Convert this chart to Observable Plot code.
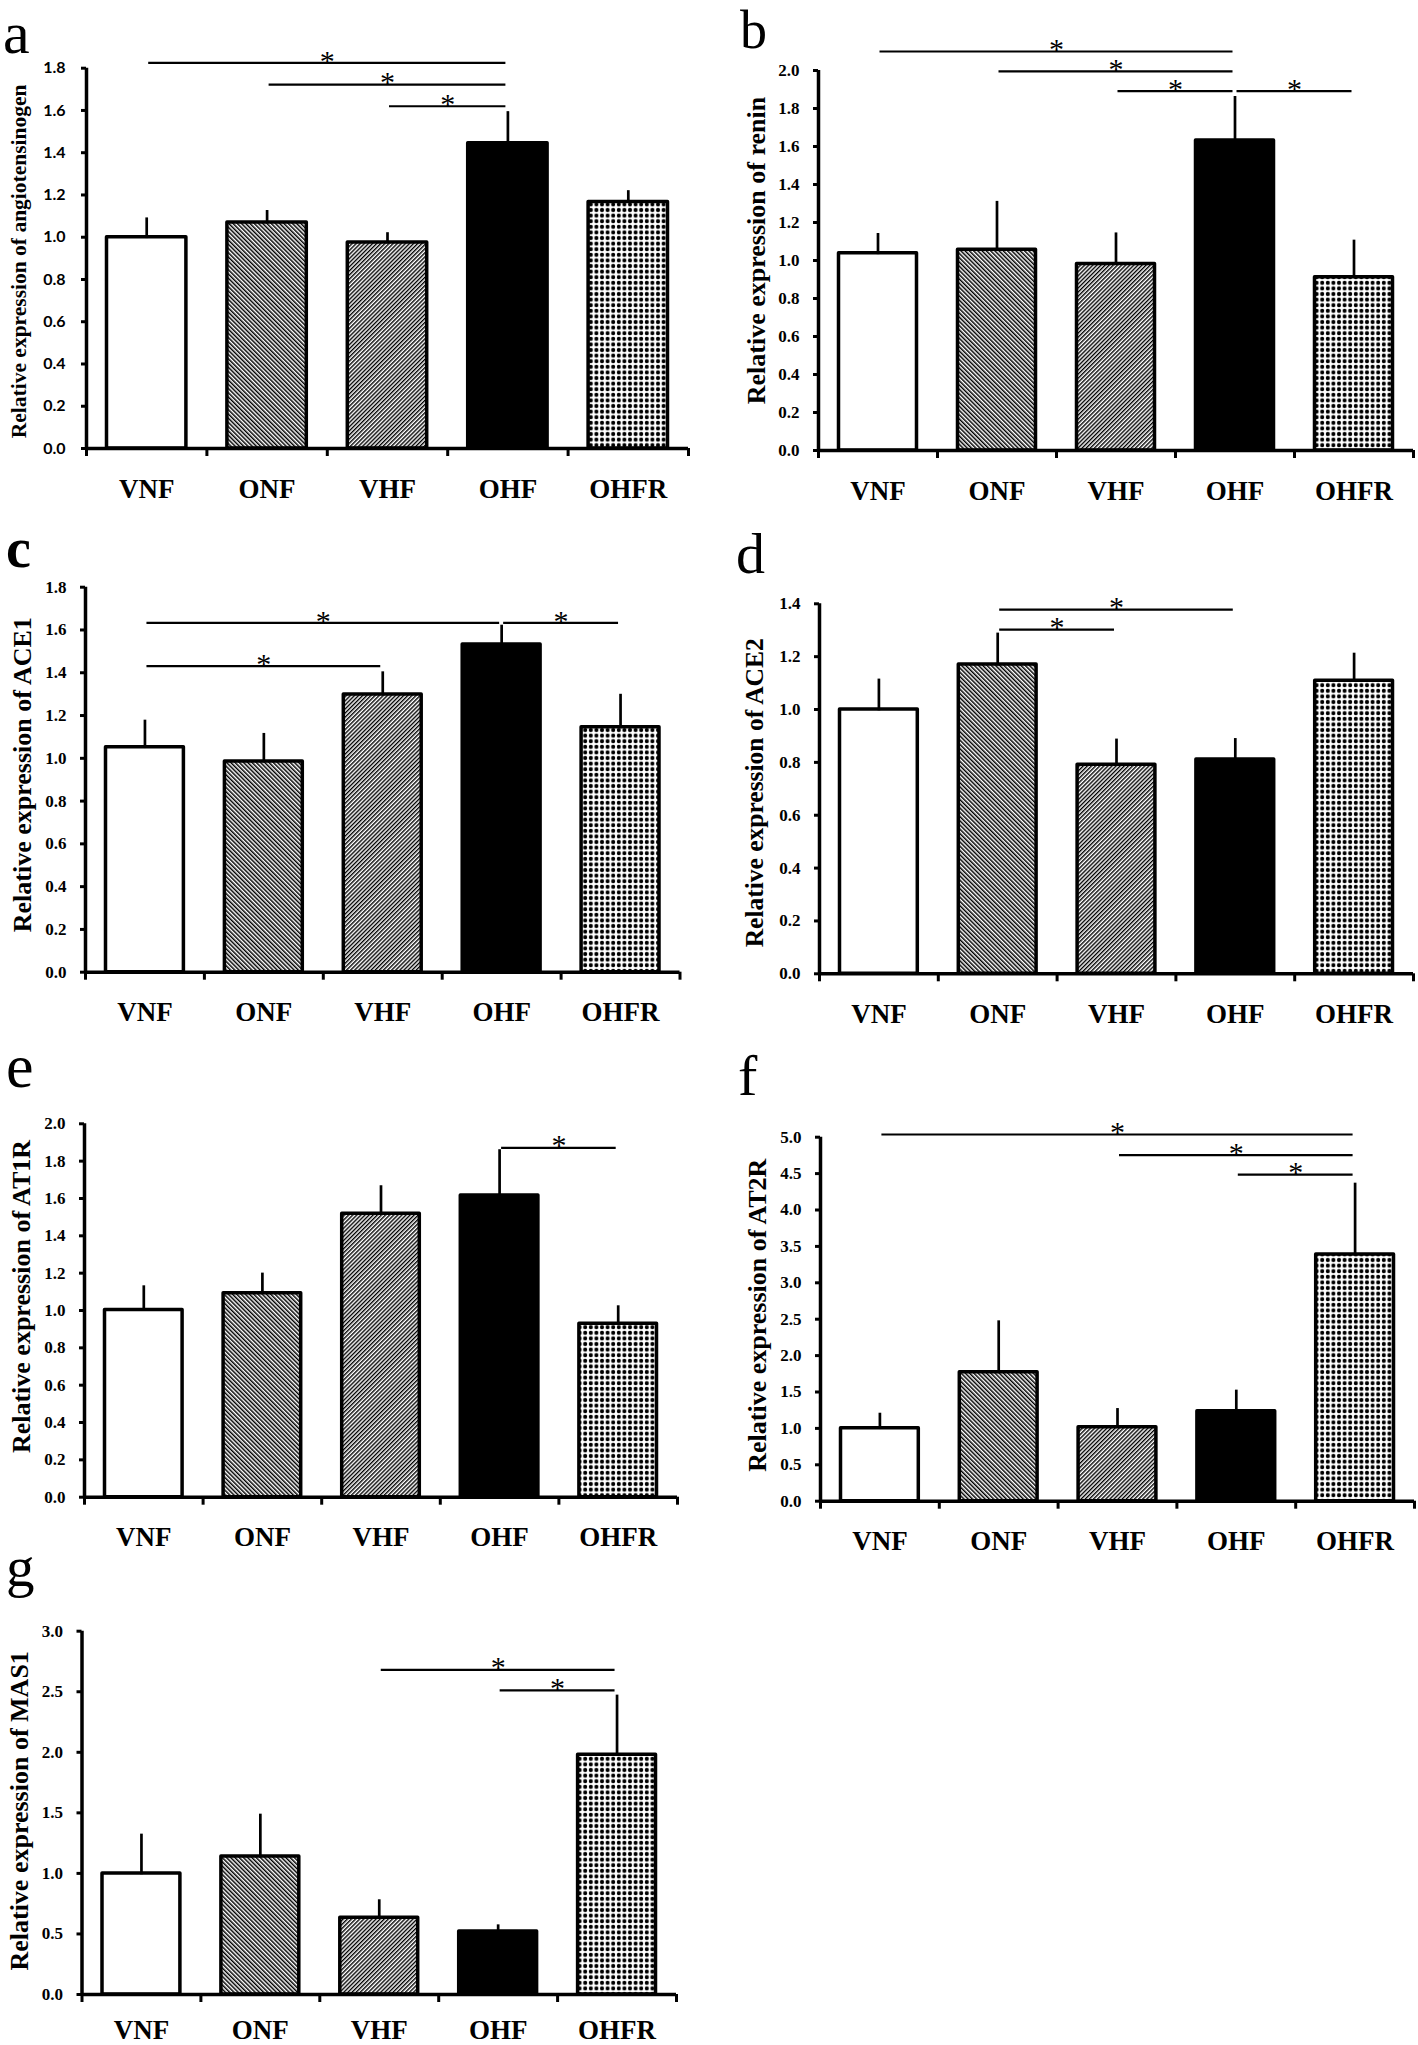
<!DOCTYPE html>
<html><head><meta charset="utf-8">
<script src="https://cdn.jsdelivr.net/npm/d3@7"></script>
<script src="https://cdn.jsdelivr.net/npm/@observablehq/plot@0.6"></script>
<style>
body{margin:0;background:#fff;}
#fig{position:relative;width:1418px;height:2045px;overflow:hidden;background:#fff;}
.panel{position:absolute;width:709px;}
#letters{position:absolute;left:0;top:0;z-index:5;pointer-events:none;}
</style></head><body>
<div id="fig">
<svg width="0" height="0" style="position:absolute">
<defs>
<pattern id="pONF" patternUnits="userSpaceOnUse" width="3.0" height="10" patternTransform="rotate(-45)">
<rect width="3.0" height="10" fill="#fff"/><rect width="1.5" height="10" fill="#000"/>
</pattern>
<pattern id="pVHF" patternUnits="userSpaceOnUse" width="2.9" height="10" patternTransform="rotate(45)">
<rect width="2.9" height="10" fill="#fff"/><rect width="1.4" height="10" fill="#000"/>
</pattern>
<pattern id="pOHFR" patternUnits="userSpaceOnUse" width="5.6" height="5.6">
<rect width="5.6" height="5.6" fill="#fff"/><circle cx="2.8" cy="2.8" r="2.05" fill="#000"/>
</pattern>
</defs>
</svg>
</div>
<script>
// ---------- data ----------
const categories = ["VNF", "ONF", "VHF", "OHF", "OHFR"];

const aMean = [1.00, 1.07, 0.975, 1.445, 1.167];
const aErr  = [0.085, 0.05, 0.04, 0.143, 0.047];
const aSig  = [[0, 3, 1.825], [1, 3, 1.722], [2, 3, 1.62]];

const bMean = [1.038, 1.056, 0.982, 1.632, 0.912];
const bErr  = [0.097, 0.248, 0.156, 0.224, 0.188];
const bSig  = [[0, 3, 2.1], [1, 3, 1.995], [2, 3, 1.891], [3, 4, 1.891]];

const cMean = [1.052, 0.985, 1.298, 1.532, 1.145];
const cErr  = [0.12, 0.125, 0.10, 0.084, 0.148];
const cSig  = [[0, 3, 1.633], [3, 4, 1.633], [0, 2, 1.431]];

const dMean = [1.00, 1.17, 0.791, 0.811, 1.109];
const dErr  = [0.11, 0.114, 0.092, 0.074, 0.099];
const dSig  = [[1, 3, 1.378], [1, 2, 1.302]];

const eMean = [1.003, 1.093, 1.518, 1.616, 0.929];
const eErr  = [0.122, 0.10, 0.143, 0.238, 0.089];
const eSig  = [[3, 4, 1.871]];

const fMean = [1.003, 1.772, 1.016, 1.236, 3.388];
const fErr  = [0.187, 0.687, 0.238, 0.271, 0.962];
const fSig  = [[0, 4, 5.037], [2, 4, 4.753], [3, 4, 4.487]];

const gMean = [1.00, 1.139, 0.633, 0.52, 1.979];
const gErr  = [0.313, 0.339, 0.138, 0.044, 0.482];
const gSig  = [[2, 4, 2.681], [3, 4, 2.511]];

const yLabels = [
  "Relative expression of angiotensinogen",
  "Relative expression of renin",
  "Relative expression of ACE1",
  "Relative expression of ACE2",
  "Relative expression of AT1R",
  "Relative expression of AT2R",
  "Relative expression of MAS1"
];
const yMax  = [1.8, 2.0, 1.8, 1.4, 2.0, 5.0, 3.0];
const yStep = [0.2, 0.2, 0.2, 0.2, 0.2, 0.5, 0.5];
const panelLetters = ["a", "b", "c", "d", "e", "f", "g"];

// ---------- styles / layout ----------
const fills = ["#fff", "url(#pONF)", "url(#pVHF)", "#000", "url(#pOHFR)"];
const SERIF = '"Liberation Serif", "Times New Roman", Times, serif';
const layout = [
  {left: 0,   top: 0,    h: 520, mt: 67.7, mb: 72,   ml: 86,  mr: 21,  tp: 16, tickFont: 'Lato, "Liberation Sans", sans-serif', tickSize: 16, lfs: 21.5, ldx: -67.5, ldy: 3, cp: 30},
  {left: 709, top: 0,    h: 520, mt: 70,   mb: 70,   ml: 109, mr: 5,   tp: 14, tickFont: SERIF, tickSize: 17, lfs: 26, ldx: -61.5, ldy: -10, cp: 30},
  {left: 0,   top: 520,  h: 530, mt: 66.7, mb: 78.3, ml: 85,  mr: 29.5,tp: 14, tickFont: SERIF, tickSize: 17, lfs: 26, ldx: -63, ldy: -5, cp: 30},
  {left: 709, top: 520,  h: 530, mt: 83.3, mb: 76.7, ml: 110, mr: 5,   tp: 14, tickFont: SERIF, tickSize: 17, lfs: 25.5, ldx: -64.5, ldy: 4, cp: 30},
  {left: 0,   top: 1050, h: 510, mt: 73.3, mb: 63.3, ml: 84,  mr: 32,  tp: 14, tickFont: SERIF, tickSize: 17, lfs: 26, ldx: -63, ldy: -14, cp: 30},
  {left: 709, top: 1050, h: 510, mt: 86.7, mb: 59.3, ml: 111, mr: 4,   tp: 14, tickFont: SERIF, tickSize: 17, lfs: 26, ldx: -63, ldy: -4, cp: 30},
  {left: 0,   top: 1560, h: 485, mt: 70.7, mb: 51,   ml: 81.5,mr: 33,  tp: 14, tickFont: SERIF, tickSize: 17, lfs: 26, ldx: -62, ldy: -2, cp: 25}
];
const letterStyle = [
  {x: 3,   y: 53,   size: 60, weight: "normal"},
  {x: 740, y: 48,   size: 54, weight: "normal"},
  {x: 6,   y: 567,  size: 56, weight: "bold"},
  {x: 736, y: 573,  size: 58, weight: "normal"},
  {x: 6,   y: 1087, size: 62, weight: "normal"},
  {x: 738, y: 1095, size: 58, weight: "normal"},
  {x: 6,   y: 1586, size: 57, weight: "normal"}
];

const means = [aMean, bMean, cMean, dMean, eMean, fMean, gMean];
const errs  = [aErr, bErr, cErr, dErr, eErr, fErr, gErr];
const sigs  = [aSig, bSig, cSig, dSig, eSig, fSig, gSig];

function makePanel(k) {
  const L = layout[k];
  const data = categories.map((c, i) => ({c, i, v: means[k][i], e: errs[k][i]}));
  const ticks = d3.range(0, yMax[k] + yStep[k] / 2, yStep[k]);
  return Plot.plot({
    width: 709, height: L.h,
    marginTop: L.mt, marginBottom: L.mb, marginLeft: L.ml, marginRight: L.mr,
    x: {type: "linear", domain: [0, categories.length], axis: null},
    y: {type: "linear", domain: [0, yMax[k]], axis: null},
    color: {type: "identity"},
    style: {fontFamily: SERIF, fontWeight: "bold", fontSize: "17px", color: "#000", background: "transparent", overflow: "visible"},
    marks: [
      Plot.rectY(data, {x1: "i", x2: d => d.i + 1, y1: 0, y2: "v", insetLeft: 20.5, insetRight: 20.5,
        fill: d => fills[d.i], stroke: "#000", strokeWidth: 3.5, strokeLinejoin: "round"}),
      Plot.ruleX(data, {x: d => d.i + 0.5, y1: "v", y2: d => d.v + d.e, stroke: "#000", strokeWidth: 2.7, strokeLinecap: "square"}),
      Plot.ruleX([0], {y1: 0, y2: yMax[k], stroke: "#000", strokeWidth: 3.5}),
      Plot.ruleY([0], {x1: 0, x2: categories.length, stroke: "#000", strokeWidth: 3.5}),
      Plot.axisY({ticks, tickFormat: d3.format(".1f"), tickSize: 5, tickPadding: L.tp, strokeWidth: 3,
        fontSize: L.tickSize, fontFamily: L.tickFont, fontWeight: "bold", label: null}),
      Plot.axisX({ticks: d3.range(categories.length + 1), tickSize: 8, tickFormat: () => "", strokeWidth: 3, label: null}),
      Plot.axisX({ticks: categories.map((c, i) => i + 0.5), tickFormat: d => categories[Math.floor(d)],
        tickSize: 0, tickPadding: L.cp, fontSize: 27, fontFamily: SERIF, fontWeight: "bold", label: null}),
      Plot.ruleY(sigs[k], {x1: d => d[0] + 0.5, x2: d => d[1] + 0.5, y: d => d[2], stroke: "#000", strokeWidth: 2.2, insetLeft: 2, insetRight: 2}),
      Plot.text(sigs[k], {x: d => (d[0] + d[1]) / 2 + 0.5, y: d => d[2], text: () => "*", fontSize: 30, fontWeight: "normal", fontFamily: SERIF, dy: -2}),
      Plot.text([yLabels[k]], {frameAnchor: "left", textAnchor: "middle", lineAnchor: "middle", rotate: -90, dx: L.ldx, dy: L.ldy, fontSize: L.lfs, fontWeight: "bold", fontFamily: SERIF})
    ]
  });
}

const fig = document.getElementById("fig");
layout.forEach((L, k) => {
  const div = document.createElement("div");
  div.className = "panel";
  div.style.left = L.left + "px";
  div.style.top = L.top + "px";
  div.appendChild(makePanel(k));
  fig.appendChild(div);
});

// panel letters
const ns = "http://www.w3.org/2000/svg";
const ov = document.createElementNS(ns, "svg");
ov.setAttribute("id", "letters");
ov.setAttribute("width", 1418);
ov.setAttribute("height", 2045);
panelLetters.forEach((t, k) => {
  const s = letterStyle[k];
  const el = document.createElementNS(ns, "text");
  el.setAttribute("x", s.x);
  el.setAttribute("y", s.y);
  el.setAttribute("font-family", SERIF);
  el.setAttribute("font-size", s.size);
  el.setAttribute("font-weight", s.weight);
  el.textContent = t;
  ov.appendChild(el);
});
fig.appendChild(ov);
</script>
</body></html>
